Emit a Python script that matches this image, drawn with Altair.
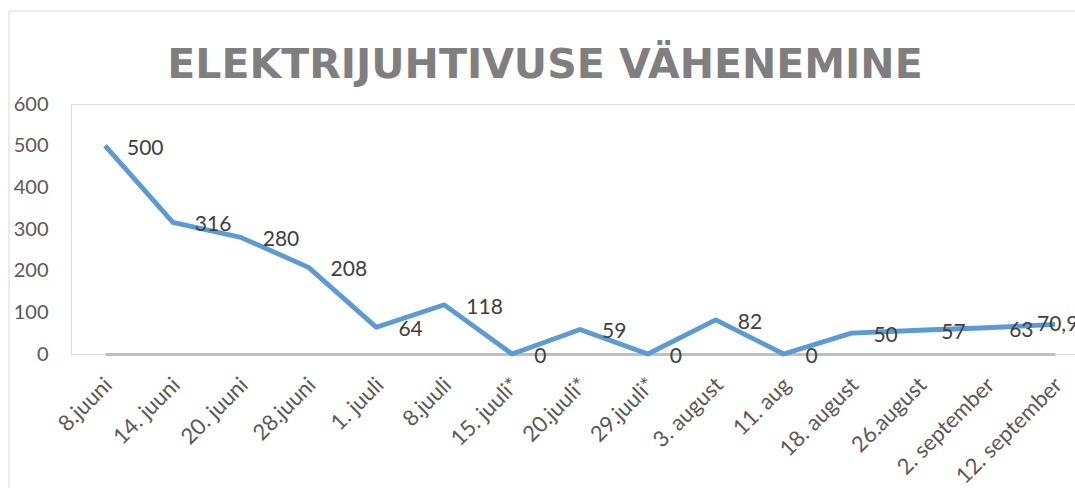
import altair as alt
import pandas as pd

categories = ["8.juuni", "14. juuni", "20. juuni", "28.juuni", "1. juuli", "8.juuli",
              "15. juuli*", "20.juuli*", "29.juuli*", "3. august", "11. aug",
              "18. august", "26.august", "2. september", "12. september"]
values = [500, 316, 280, 208, 64, 118, 0, 59, 0, 82, 0, 50, 57, 63, 70.9]
labels = ["500", "316", "280", "208", "64", "118", "0", "59", "0", "82", "0",
          "50", "57", "63", "70,9"]

df = pd.DataFrame({"cat": categories, "val": values, "lab": labels})
df_main = df.iloc[:-1]
df_last = df.iloc[-1:]
frame_df = pd.DataFrame({"f": [0]})

FONT = "Lato"

x = alt.X("cat:N", sort=categories, title=None,
          scale=alt.Scale(type="point", range=[34, 984], padding=0),
          axis=alt.Axis(labelAngle=-45, labelFontSize=22, labelColor="#595959",
                        labelFont=FONT, domainColor="#BFBFBF", domainWidth=3,
                        ticks=False, labelPadding=20, labelOffset=-4))
y = alt.Y("val:Q", title=None,
          scale=alt.Scale(domain=[0, 600], nice=False, zero=True),
          axis=alt.Axis(values=[0, 100, 200, 300, 400, 500, 600], grid=False,
                        domain=False, ticks=False, labelFontSize=20,
                        labelColor="#595959", labelFont=FONT, labelPadding=23))

line = alt.Chart(df).mark_line(color="#5B9BD5", strokeWidth=4.8,
                               strokeJoin="round").encode(x=x, y=y)
text = alt.Chart(df_main).mark_text(align="left", baseline="middle", dx=22, dy=3,
                                    fontSize=21, font=FONT, color="#404040").encode(
    x=alt.X("cat:N", sort=categories), y="val:Q", text="lab:N")
text_last = alt.Chart(df_last).mark_text(align="left", baseline="middle", dx=-18, dy=1,
                                         fontSize=21, font=FONT, color="#404040").encode(
    x=alt.X("cat:N", sort=categories), y="val:Q", text="lab:N")

frame_left = alt.Chart(frame_df).mark_rule(color="#D9D9D9", strokeWidth=1).encode(
    x=alt.value(-62), y=alt.value(-93), y2=alt.value(384))
frame_top = alt.Chart(frame_df).mark_rule(color="#D9D9D9", strokeWidth=1).encode(
    x=alt.value(-62), x2=alt.value(1004), y=alt.value(-93))

chart = alt.layer(frame_left, frame_top, line, text, text_last).properties(
    width=1004, height=250,
    padding={"left": 71, "top": 104, "right": 0, "bottom": 134},
    autosize=alt.AutoSizeParams(type="none"),
    title=alt.TitleParams("ELEKTRIJUHTIVUSE VÄHENEMINE", fontSize=41,
                          font="DejaVu Sans", fontWeight="bold", color="#7F7F7F",
                          anchor="middle", frame="group", baseline="alphabetic",
                          dx=-28, dy=108, offset=0),
).configure_view(stroke=None).configure(background="white")

chart.save("out.html", embed_options={"renderer": "svg", "actions": False})
